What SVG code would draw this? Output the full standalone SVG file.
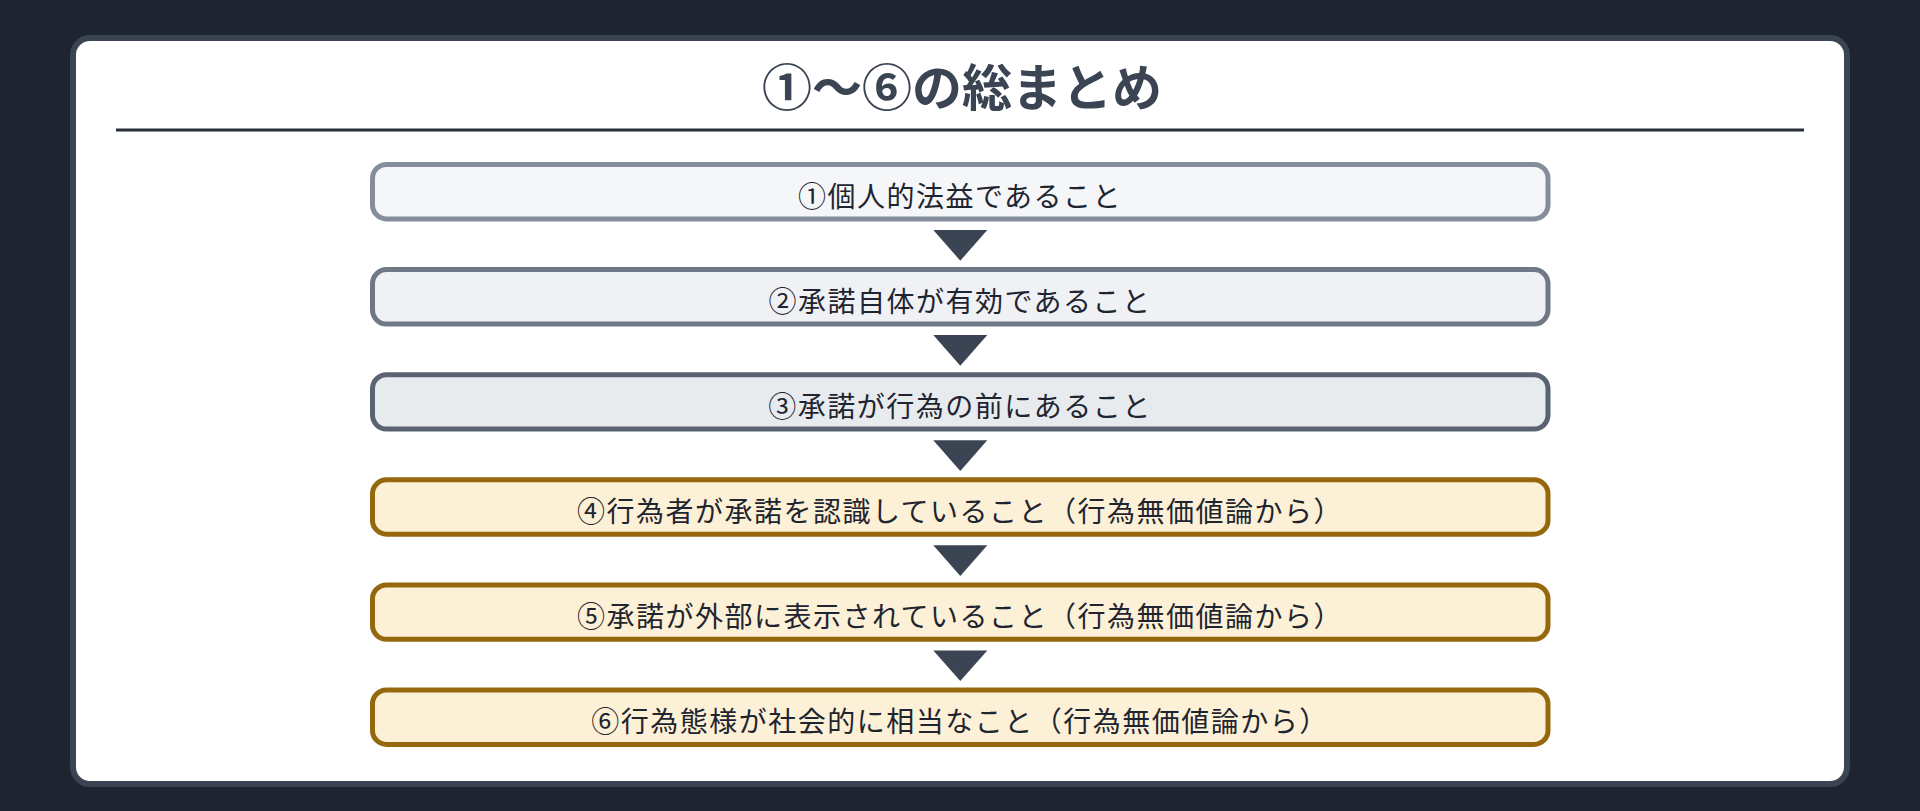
<svg xmlns="http://www.w3.org/2000/svg" width="1920" height="811" viewBox="0 0 1920 811">
<style>
.title{font-family:"Noto Sans CJK JP","Noto Sans",sans-serif;font-weight:700;font-size:50px;fill:#3a4452;text-anchor:middle}
.lbl{font-family:"Noto Sans CJK JP","Noto Sans",sans-serif;font-weight:400;font-size:28px;fill:#1f2530;text-anchor:middle;letter-spacing:1.5px}
.box{stroke-width:5}
.g1{fill:#f5f6f8;stroke:#858d9a}
.g2{fill:#eff1f4;stroke:#707886}
.g3{fill:#e8ebee;stroke:#5a6372}
.y{fill:#fcf0d6;stroke:#96680e}
.tri{fill:#3a4452}
</style>
<rect x="0" y="0" width="1920" height="811" fill="#1e2530"/>
<rect x="73" y="38" width="1774" height="746" rx="17" fill="#ffffff" stroke="#3a4452" stroke-width="6"/>
<text class="title" x="962" y="106">①〜⑥の総まとめ</text>
<line x1="116" y1="130" x2="1804" y2="130" stroke="#282f3a" stroke-width="3"/>
<g id="n1"><rect class="box g1" x="372.5" y="164.5" width="1175.5" height="54.4" rx="14"/><text class="lbl" x="960" y="206.5">①個人的法益であること</text></g>
<g id="n2"><rect class="box g2" x="372.5" y="269.6" width="1175.5" height="54.4" rx="14"/><text class="lbl" x="960" y="311.6">②承諾自体が有効であること</text></g>
<g id="n3"><rect class="box g3" x="372.5" y="374.7" width="1175.5" height="54.4" rx="14"/><text class="lbl" x="960" y="416.7">③承諾が行為の前にあること</text></g>
<g id="n4"><rect class="box y" x="372.5" y="479.8" width="1175.5" height="54.4" rx="14"/><text class="lbl" x="960" y="521.8">④行為者が承諾を認識していること（行為無価値論から）</text></g>
<g id="n5"><rect class="box y" x="372.5" y="584.9" width="1175.5" height="54.4" rx="14"/><text class="lbl" x="960" y="626.9">⑤承諾が外部に表示されていること（行為無価値論から）</text></g>
<g id="n6"><rect class="box y" x="372.5" y="690" width="1175.5" height="54.4" rx="14"/><text class="lbl" x="960" y="732">⑥行為態様が社会的に相当なこと（行為無価値論から）</text></g>
<g id="connectors">
<polygon class="tri" points="933.3,230 987.3,230 960.3,260.7"/>
<polygon class="tri" points="933.3,335.1 987.3,335.1 960.3,365.8"/>
<polygon class="tri" points="933.3,440.2 987.3,440.2 960.3,470.9"/>
<polygon class="tri" points="933.3,545.3 987.3,545.3 960.3,576"/>
<polygon class="tri" points="933.3,650.4 987.3,650.4 960.3,681.1"/>
</g>
</svg>
